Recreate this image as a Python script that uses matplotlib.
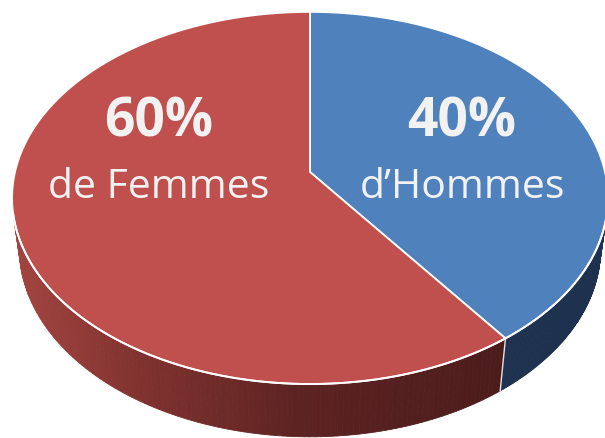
import numpy as np
import matplotlib.pyplot as plt
from matplotlib.patches import Polygon
from matplotlib.colors import to_rgb

# data
shares = [40, 60]
pct_labels = ["40%", "60%"]
name_labels = ["d\u2019Hommes", "de Femmes"]

# styles
top_colors = ["#4f81bd", "#c0504d"]
side_stops = [
    [(0, "#1e3250"), (605, "#1e3250")],
    [(15, "#a2443f"), (140, "#80322f"), (300, "#5c2322"), (510, "#4b1c1b")],
]
text_color = "#f2f2f2"
label_x = [462, 159]

# projection of the tilted pie (pixel coordinates)
cx, cy = 310, 173
phi = np.radians(38.2)
D = 5.63
F = 295 * D
h = 0.224


def project(t, z):
    x, y = np.cos(t), np.sin(t)
    v = y * np.sin(phi) + z * np.cos(phi)
    w = y * np.cos(phi) - z * np.sin(phi)
    return cx + F * x / (D + w), cy - F * v / (D + w)


def side_color(stops, x):
    xs = [s[0] for s in stops]
    cols = np.array([to_rgb(s[1]) for s in stops])
    return tuple(np.interp(x, xs, cols[:, k]) for k in range(3))


fig = plt.figure(figsize=(6.05, 4.39), dpi=100)
ax = fig.add_axes([0, 0, 1, 1])
ax.set_xlim(0, 605)
ax.set_ylim(439, 0)
ax.axis('off')

# slice angle ranges, clockwise from 12 o'clock
bounds = 90 - 360 * np.concatenate([[0], np.cumsum(shares)]) / sum(shares)
# visible part of the wall
lim = np.degrees(np.arcsin(1 / (D * np.cos(phi))))
vis_lo, vis_hi = -180 + lim, -lim

for i in range(len(shares)):
    a_hi, a_lo = bounds[i], bounds[i + 1]
    for shift in (-360, 0, 360):
        lo = max(a_lo + shift, vis_lo)
        hi = min(a_hi + shift, vis_hi)
        if hi <= lo:
            continue
        ts = np.radians(np.linspace(lo, hi, 120))
        for t1, t2 in zip(ts[:-1], ts[1:]):
            x1, y1 = project(t1, 0)
            x2, y2 = project(t2, 0)
            x3, y3 = project(t2, -h)
            x4, y4 = project(t1, -h)
            col = side_color(side_stops[i], (x1 + x2) / 2)
            ax.add_patch(Polygon([(x1, y1), (x2, y2), (x3, y3), (x4, y4)],
                                 closed=True, facecolor=col, edgecolor=col,
                                 linewidth=0.6))

# divider on the wall
for b in bounds:
    bb = (b + 180) % 360 - 180
    if vis_lo < bb < vis_hi:
        xa, ya = project(np.radians(bb), 0)
        xb, yb = project(np.radians(bb), -h)
        ax.plot([xa, xb], [ya, yb], color="#e8e0e0", linewidth=1.0)

# top face
for i in range(len(shares)):
    ts = np.radians(np.linspace(bounds[i], bounds[i + 1], 200))
    xs, ys = project(ts, 0)
    pts = [(cx, cy)] + list(zip(xs, ys))
    ax.add_patch(Polygon(pts, closed=True, facecolor=top_colors[i],
                         edgecolor="white", linewidth=1.3))

# white highlight along the front rim
ts = np.radians(np.linspace(vis_lo, vis_hi, 300))
xs, ys = project(ts, 0)
ax.plot(xs, ys, color="white", linewidth=1.4)

for i in range(len(shares)):
    ax.text(label_x[i], 137, pct_labels[i], color=text_color, fontsize=38.5,
            fontweight='bold', family="Open Sans", ha='center', va='baseline')
    ax.text(label_x[i], 198, name_labels[i], color=text_color, fontsize=29.5,
            family="Open Sans", ha='center', va='baseline')

fig.savefig("out.png", dpi=100)
